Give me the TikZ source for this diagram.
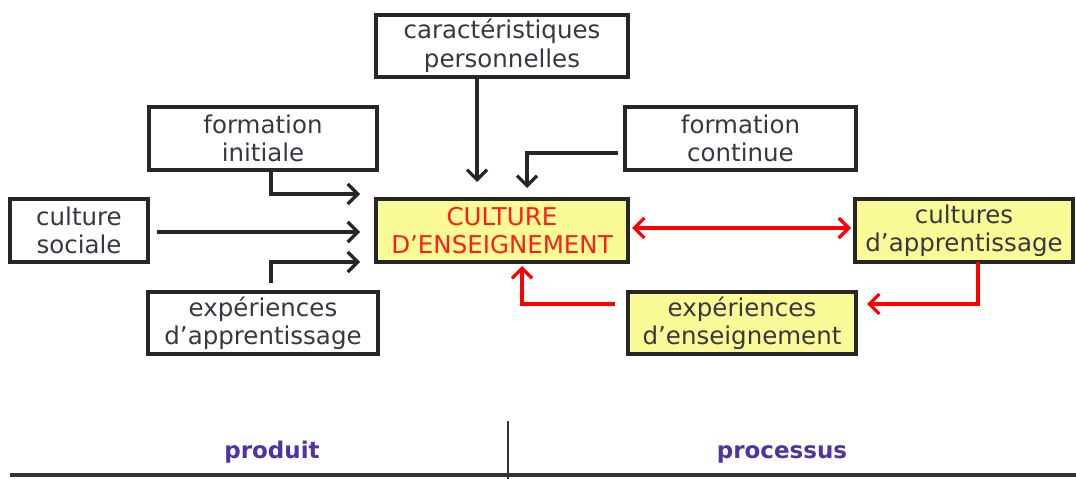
\documentclass[tikz,border=0pt]{standalone}
\usepackage{fontspec}
\setmainfont{DejaVu Sans}
\usetikzlibrary{arrows.meta}
\definecolor{txtgray}{RGB}{55,55,65}
\definecolor{boxyellow}{RGB}{250,250,150}
\definecolor{redtxt}{RGB}{255,30,30}
\definecolor{purp}{RGB}{80,50,160}
\tikzset{
  box/.style={draw=black!85, line width=3.4pt, inner sep=0pt, outer sep=0pt, align=center,
    text=txtgray, font=\fontsize{24.5}{28.5}\selectfont},
  ybox/.style={box, fill=boxyellow},
  arr/.style={line width=3.2pt, draw=black!85, -{Straight Barb[length=10pt,width=20pt,line width=3.2pt]}},
  rarr/.style={line width=3.2pt, draw=red, -{Straight Barb[length=10pt,width=20pt,line width=3.2pt]}},
  rdarr/.style={line width=3.2pt, draw=red, {Straight Barb[length=10pt,width=20pt,line width=3.2pt]}-{Straight Barb[length=10pt,width=20pt,line width=3.2pt]}},
  lbl/.style={font=\bfseries\fontsize{23}{27}\selectfont, text=purp, inner sep=0pt, anchor=base},
}
\begin{document}
\begin{tikzpicture}[x=1pt,y=-1pt]
\useasboundingbox (0,0) rectangle (1076,479);
\node[box, minimum width=252pt, minimum height=62pt] (car) at (502,46) {caractéristiques\\personnelles};
\node[box, minimum width=228pt, minimum height=63pt] (ini) at (263,138.5) {formation\\initiale};
\node[box, minimum width=231pt, minimum height=63pt] (cont) at (740.5,138.5) {formation\\continue};
\node[box, minimum width=138pt, minimum height=63pt] (soc) at (79,230.5) {culture\\sociale};
\node[ybox, minimum width=252pt, minimum height=63pt, text=redtxt] (cult) at (502,230.5) {CULTURE\\D’ENSEIGNEMENT};
\node[ybox, minimum width=218pt, minimum height=63pt] (capp) at (964,230.5) {cultures\\d’apprentissage};
\node[box, minimum width=230pt, minimum height=62pt] (eapp) at (263,323) {expériences\\d’apprentissage};
\node[ybox, minimum width=228pt, minimum height=62pt] (eens) at (742,323) {expériences\\d’enseignement};
\node[lbl] (prod) at (272,458) {produit};
\node[lbl] (proc) at (782,458) {processus};
% coordinates
\coordinate (c1) at (477,182);
\coordinate (k1) at (618,153);
\coordinate (k2) at (527,153);
\coordinate (k3) at (527,188);
\coordinate (i1) at (271,194);
\coordinate (i2) at (360,194);
\coordinate (s1) at (157,232);
\coordinate (s2) at (360,232);
\coordinate (e0) at (271,283);
\coordinate (e1) at (271,262);
\coordinate (e2) at (360,262);
\coordinate (r1) at (632,228);
\coordinate (r2) at (851,228);
\coordinate (d1) at (978,262);
\coordinate (d2) at (978,304);
\coordinate (d3) at (867,304);
\coordinate (f0) at (615,304);
\coordinate (f1) at (522,304);
\coordinate (f2) at (522,266);
\coordinate (hl) at (10,475);
\coordinate (hr) at (1076,475);
\coordinate (vt) at (508,421);
\coordinate (vb) at (508,479);
% connectors
\draw[arr] (car.south -| c1) -- (c1);
\draw[arr] (k1) -- (k2) -- (k3);
\draw[arr] (ini.south -| i1) -- (i1) -- (i2);
\draw[arr] (s1) -- (s2);
\draw[arr] (e0) -- (e1) -- (e2);
\draw[rdarr] (r1) -- (r2);
\draw[rarr] (capp.south -| d1) -- (d2) -- (d3);
\draw[rarr] (f0) -- (f1) -- (f2);
\draw[line width=3.2pt, black!80] (hl) -- (hr);
\draw[line width=2.8pt, black!80] (vt) -- (vb);
\end{tikzpicture}
\end{document}
